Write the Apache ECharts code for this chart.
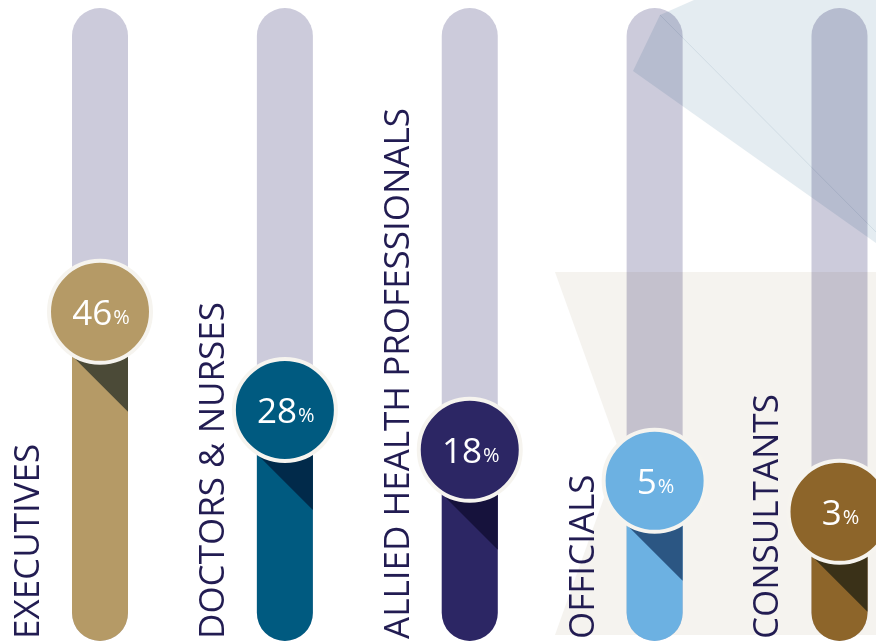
<!DOCTYPE html>
<html>
<head>
<meta charset="utf-8">
<script src="https://cdn.jsdelivr.net/npm/echarts@6/dist/echarts.min.js"></script>
<style>
html,body{margin:0;padding:0;background:#ffffff;}
#chart{width:876px;height:643px;}
</style>
</head>
<body>
<div id="chart"></div>
<script>
// ---- data ----
const categories = ['EXECUTIVES', 'DOCTORS & NURSES', 'ALLIED HEALTH PROFESSIONALS', 'OFFICIALS', 'CONSULTANTS'];
const shares = [46, 28, 18, 5, 3];                    // percentages shown in the circles
const fillLevels = [52.0, 36.5, 30.2, 25.3, 20.4];    // fill height (% of track)
const trackMax = [100, 100, 100, 100, 100];           // full track

// ---- palette ----
const fillColors = ['#b59a66', '#005a80', '#2c2664', '#6cb1e2', '#8d652a'];
const darkColors = ['#4b4a37', '#012a4a', '#16123c', '#2b5683', '#3a3118'];

const chart = echarts.init(document.getElementById('chart'), null, {renderer: 'canvas'});

const option = {
  backgroundColor: '#ffffff',
  animation: false,
  grid: {left: 100, right: 36.5, top: 8, bottom: 2},
  xAxis: {type: 'category', data: categories, show: false, boundaryGap: false},
  yAxis: {type: 'value', min: 0, max: 100, show: false},
  graphic: {
    elements: [
      {
        type: 'polygon', z: 5, silent: true,
        shape: {points: [[694, 0], [876, 0], [876, 243], [633, 71], [660, 15]]},
        style: {fill: '#e4ecf1', blend: 'multiply'}
      },
      {
        type: 'line', z: 5, silent: true,
        shape: {x1: 660, y1: 15, x2: 876, y2: 232},
        style: {stroke: '#e9eef2', lineWidth: 1, blend: 'multiply'}
      },
      {
        type: 'polygon', z: 5, silent: true,
        shape: {points: [[555, 272], [876, 272], [876, 635], [555, 635], [620, 453]]},
        style: {fill: '#f5f3ef', blend: 'multiply'}
      }
    ]
  },
  series: [
    {
      type: 'bar',
      z: 1,
      silent: true,
      clip: false,
      barWidth: 56,
      data: trackMax,
      itemStyle: {color: '#cccbdb', borderRadius: 28}
    },
    {
      type: 'custom',
      z: 10,
      clip: false,
      silent: true,
      data: categories.map((c, i) => [i, fillLevels[i], shares[i]]),
      renderItem: function (params, api) {
        const i = api.value(0);
        const base = api.coord([i, 0]);
        const lvl = api.coord([i, api.value(1)]);
        const cx = base[0], by = base[1], cy = lvl[1];
        const hw = 28;
        return {
          type: 'group',
          children: [
            {type: 'rect', shape: {x: cx - hw, y: cy, width: 2 * hw, height: by - cy, r: [0, 0, hw, hw]},
             style: {fill: fillColors[i]}},
            {type: 'polygon', shape: {points: [[cx - hw, cy + 44], [cx + hw, cy + 44], [cx + hw, cy + 100]]},
             style: {fill: darkColors[i]}},
            {type: 'circle', shape: {cx: cx, cy: cy, r: 51},
             style: {fill: fillColors[i], stroke: '#f6f4ef', lineWidth: 4}},
            {type: 'text', x: cx + 1, y: cy + 1,
             style: {
               text: '{a|' + api.value(2) + '}{b|%}',
               align: 'center', verticalAlign: 'middle',
               rich: {
                 a: {fontFamily: 'Open Sans', fontSize: 35, fill: '#ffffff', verticalAlign: 'bottom', lineHeight: 40},
                 b: {fontFamily: 'Open Sans', fontSize: 20, fill: '#ffffff', verticalAlign: 'bottom', lineHeight: 40, padding: [0, 0, 5, 1]}
               }
             }},
            {type: 'text', x: cx - 71, y: 639, rotation: Math.PI / 2,
             style: {
               text: categories[i],
               fontFamily: 'Open Sans', fontSize: 35, fill: '#221c52',
               align: 'left', verticalAlign: 'middle'
             }}
          ]
        };
      }
    }
  ]
};
chart.setOption(option);
</script>
</body>
</html>
